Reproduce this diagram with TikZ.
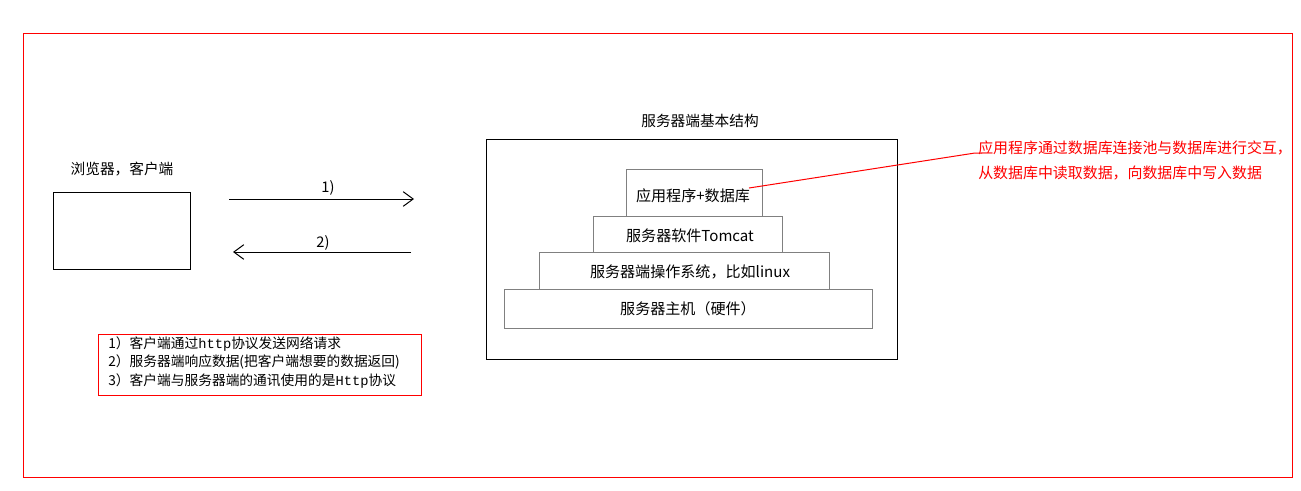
\documentclass[tikz,border=0pt]{standalone}
\usepackage{fontspec}
\setmainfont{Noto Sans CJK SC}
\newfontfamily\monofont{Liberation Mono}
\usetikzlibrary{arrows.meta}
\begin{document}
\begin{tikzpicture}[x=0.75pt,y=-0.75pt,
  txt/.style={font=\fontsize{11pt}{13pt}\selectfont, inner sep=0pt},
  ltxt/.style={font=\fontsize{11.3pt}{13pt}\selectfont, inner sep=0pt},
  note/.style={font=\fontsize{10.3pt}{12pt}\selectfont, inner sep=0pt, anchor=west},
  layer/.style={draw=black!50, line width=0.75pt},
  flow/.style={line width=0.75pt, -{Straight Barb[length=7.5pt,width=11pt]}},
  redtxt/.style={font=\fontsize{11.2pt}{13pt}\selectfont, inner sep=0pt, anchor=west, text=red}]
\useasboundingbox (0,0) rectangle (1301,490);
\fill[white] (0,0) rectangle (1301,490);
% outer frame
\draw[red, line width=0.75pt] (23,33) rectangle (1292,477);
% browser
\node[txt] (blabel) at (122,169) {浏览器，客户端};
\draw[line width=0.75pt] (53,192) rectangle (190,269);
% arrows
\coordinate (a1s) at (229,199);
\coordinate (a1e) at (414,199);
\coordinate (a2s) at (411,252);
\coordinate (a2e) at (233,252);
\draw[flow] (a1s) -- (a1e);
\draw[flow] (a2s) -- (a2e);
\node[txt] (l1) at (328,188) {1)};
\node[txt] (l2) at (323,243) {2)};
% note box
\draw[red, line width=0.75pt] (98,334) rectangle (421,395);
\node[note] (n1) at (108,344) {1）客户端通过{\monofont http}协议发送网络请求};
\node[note] (n2) at (108,362) {2）服务器端响应数据(把客户端想要的数据返回)};
\node[note] (n3) at (108,381) {3）客户端与服务器端的通讯使用的是{\monofont Http}协议};
% server
\node[txt] (stitle) at (700,121) {服务器端基本结构};
\draw[line width=0.75pt] (486,139) rectangle (897,359);
\draw[layer] (504,289) rectangle (872,328);
\draw[layer] (539,252) rectangle (829,289);
\draw[layer] (593,216) rectangle (782,252);
\draw[layer] (626,169) rectangle (762,216);
\node[ltxt] (L4) at (688,309) {服务器主机（硬件）};
\node[ltxt] (L3) at (690,272) {服务器端操作系统，比如linux};
\node[ltxt] (L2) at (690,236) {服务器软件Tomcat};
\node[ltxt] (L1) at (693,196) {应用程序+数据库};
% red annotation
\coordinate (rs) at (749,188);
\coordinate (re) at (975,153);
\coordinate (re2) at (982,153);
\draw[red, line width=0.75pt] (rs) -- (re) -- (re2);
\node[redtxt] (r1) at (978,148) {应用程序通过数据库连接池与数据库进行交互，};
\node[redtxt] (r2) at (978,173) {从数据库中读取数据，向数据库中写入数据};
\end{tikzpicture}
\end{document}
